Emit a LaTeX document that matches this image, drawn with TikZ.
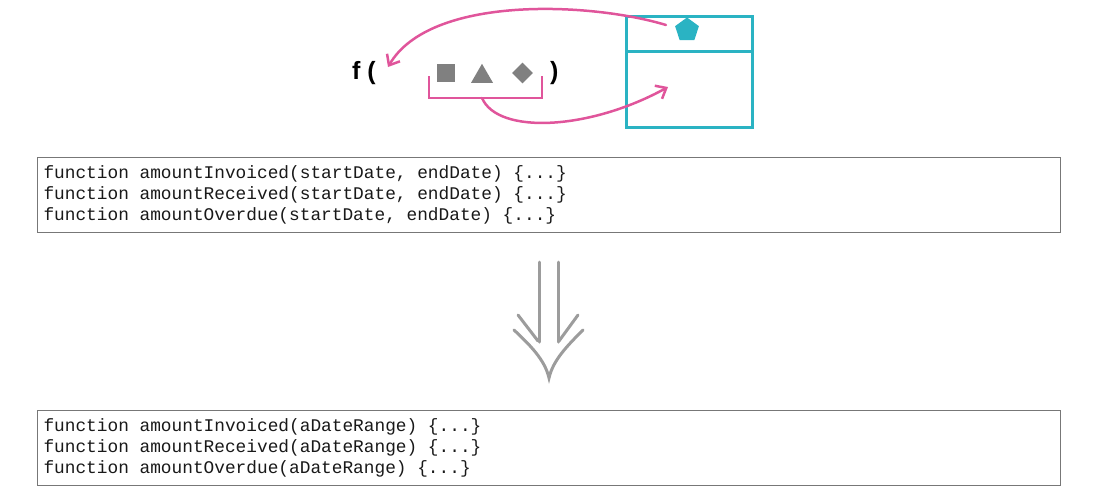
\documentclass[tikz,border=0pt]{standalone}
\usepackage{fontspec}
\setmainfont{Liberation Sans}
\newfontfamily\codefont{Liberation Mono}[WordSpace={1,0,0}]
\usetikzlibrary{arrows.meta,shapes.geometric}
\definecolor{pinkc}{HTML}{E0559B}
\definecolor{tealc}{HTML}{2AB3C3}
\definecolor{shapegray}{HTML}{808080}
\definecolor{arrgray}{HTML}{9C9C9C}
\definecolor{boxgray}{HTML}{777777}
\newcommand{\codesetup}{\codefont\fontsize{17.8}{21}\selectfont}
\newcommand{\fixsp}{\spaceskip=0.6em\relax\xspaceskip=0.6em\relax}
\tikzset{
  pinkline/.style={draw=pinkc, line width=2.5, line cap=round},
  pinkarrow/.style={pinkline, -{Straight Barb[length=9,width=15,line width=2.5]}},
  gshape/.style={fill=shapegray, draw=none, inner sep=0},
  codebox/.style={draw=boxgray, line width=1, anchor=north west, minimum width=1023, minimum height=75,
    text width=1011, inner xsep=6, align=flush left, font=\codesetup, text=black!90},
  bigarrow/.style={draw=arrgray, line width=3, line cap=round},
  calltext/.style={font=\fontsize{25}{25}\selectfont\bfseries, anchor=west, inner sep=0}
}
\begin{document}
\begin{tikzpicture}[x=1pt,y=-1pt]
\useasboundingbox (0,0) rectangle (1100,499);
% function call
\node[calltext] (f) at (352,73) {f (};
\node[calltext] (rp) at (550,73) {)};
\node[gshape, rectangle, minimum size=18] (sq) at (446,72.5) {};
\node[gshape, regular polygon, regular polygon sides=3, minimum size=25.4] (tri) at (482,76.5) {};
\node[gshape, diamond, minimum width=21, minimum height=21] (dia) at (522.5,73) {};
% bracket
\draw[pinkline, line cap=butt] (429,76) -- (429,98) -- (542,98) -- (542,76);
\coordinate (br) at (482,98);
% class box
\node[draw=tealc, line width=3, rectangle, minimum width=126, minimum height=111, anchor=north west, inner sep=0] (cls) at (625,15) {};
\draw[draw=tealc, line width=3] (cls.west |- 0,51) -- (cls.east |- 0,51);
\node[fill=tealc, regular polygon, regular polygon sides=5, minimum size=25, inner sep=0] (pent) at (687,30) {};
\coordinate (lowtip) at (668,87);
\coordinate (pstart) at (666,25);
\coordinate (ftip) at (388,67);
% arrows
\draw[pinkarrow] (br) .. controls (498,135) and (590,130) .. (lowtip);
\draw[pinkarrow] (pstart) .. controls (590,2) and (430,-5) .. (ftip);
% code boxes
\node[codebox] (code1) at (37,157) {\fixsp function amountInvoiced(startDate, endDate) \{...\}\\function amountReceived(startDate, endDate) \{...\}\\function amountOverdue(startDate, endDate) \{...\}};
\node[codebox] (code2) at (37,410) {\fixsp function amountInvoiced(aDateRange) \{...\}\\function amountReceived(aDateRange) \{...\}\\function amountOverdue(aDateRange) \{...\}};
% big down arrow
\draw[bigarrow] (539,262) -- (539,342);
\draw[bigarrow] (558,262) -- (558,342);
\draw[bigarrow] (518,315) -- (538,341);
\draw[bigarrow] (578,315) -- (559,341);
\draw[bigarrow] (514,330) .. controls (530,345) and (545,360) .. (549,378) .. controls (553,360) and (568,345) .. (583,330);
\end{tikzpicture}
\end{document}
